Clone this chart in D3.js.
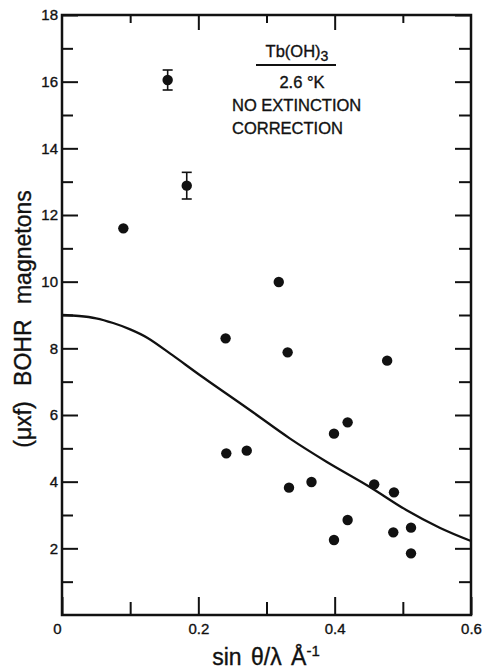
<!DOCTYPE html>
<html><head><meta charset="utf-8">
<script src="https://cdn.jsdelivr.net/npm/d3@7"></script>
<style>
body{margin:0;background:#fff;}
text{font-family:"Liberation Sans",Arial,sans-serif;fill:#111;stroke:#111;stroke-width:0.35px;}
</style></head>
<body><svg id="c" width="485" height="671"></svg>
<script>
// measured points (sinθ/λ, moment)
const pointX = [0.090,0.155,0.183,0.240,0.241,0.271,0.318,0.331,0.333,0.366,0.399,0.399,0.419,0.419,0.458,0.477,0.486,0.487,0.512,0.512];
const pointY = [11.6,16.05,12.88,8.30,4.85,4.93,9.99,7.88,3.82,3.99,5.44,2.25,5.78,2.85,3.92,7.63,2.48,3.68,2.62,1.85];
const pointErr = [0,0.3,0.4,0,0,0,0,0,0,0,0,0,0,0,0,0,0,0,0,0];
// theoretical curve
const curveX = [0,0.025,0.05,0.075,0.1,0.125,0.163,0.202,0.2755,0.334,0.388,0.451,0.505,0.554,0.6];
const curveY = [9.0,8.97,8.90,8.76,8.57,8.32,7.78,7.20,6.15,5.30,4.60,3.85,3.15,2.62,2.22];
const xMajor = [0,0.2,0.4,0.6];
const xMinor = [0.1,0.3,0.5];
const yMajor = [2,4,6,8,10,12,14,16,18];
const yMinor = [1,3,5,7,9,11,13,15,17];

const svg = d3.select("#c");
const L=62,R=471,T=15,B=615;
const x = d3.scaleLinear().domain([0,0.6]).range([L,R]);
const y = d3.scaleLinear().domain([0,18]).range([B,T]);

function style(g,w){g.select(".domain").remove();g.selectAll("line").attr("stroke","#111").attr("stroke-width",w);}

// left axis
svg.append("g").attr("transform",`translate(${L},0)`)
  .call(d3.axisLeft(y).tickValues(yMajor).tickSize(-16).tickPadding(4).tickFormat(d3.format("d")))
  .call(g=>{style(g,2);g.selectAll("text").attr("font-size",15).attr("font-family","Liberation Sans");});
svg.append("g").attr("transform",`translate(${L},0)`)
  .call(d3.axisLeft(y).tickValues(yMinor).tickSize(-11).tickFormat(""))
  .call(g=>style(g,2));
// right axis
svg.append("g").attr("transform",`translate(${R},0)`)
  .call(d3.axisRight(y).tickValues(yMajor).tickSize(-16).tickFormat(""))
  .call(g=>style(g,2));
svg.append("g").attr("transform",`translate(${R},0)`)
  .call(d3.axisRight(y).tickValues(yMinor).tickSize(-12).tickFormat(""))
  .call(g=>style(g,2));
// bottom axis
svg.append("g").attr("transform",`translate(0,${B})`)
  .call(d3.axisBottom(x).tickValues(xMajor).tickSize(-18).tickPadding(6).tickFormat(d=>d===0?"0":d3.format(".1f")(d)))
  .call(g=>{style(g,2);g.selectAll("text").attr("font-size",15).attr("dy","0.85em").attr("font-family","Liberation Sans");
    g.selectAll(".tick").filter(d=>d===0).select("text").attr("dx",-5);});
svg.append("g").attr("transform",`translate(0,${B})`)
  .call(d3.axisBottom(x).tickValues(xMinor).tickSize(-13).tickFormat(""))
  .call(g=>style(g,2));
// top axis
svg.append("g").attr("transform",`translate(0,${T})`)
  .call(d3.axisTop(x).tickValues([0.2,0.4]).tickSize(-15).tickFormat(""))
  .call(g=>style(g,2));
svg.append("g").attr("transform",`translate(0,${T})`)
  .call(d3.axisTop(x).tickValues(xMinor).tickSize(-8).tickFormat(""))
  .call(g=>style(g,2));
// frame
svg.append("rect").attr("x",L).attr("y",T).attr("width",R-L).attr("height",B-T)
  .attr("fill","none").attr("stroke","#111").attr("stroke-width",2.5);

// curve
const cdata = curveX.map((v,i)=>[v,curveY[i]]);
svg.append("path").datum(cdata)
  .attr("d",d3.line().x(d=>x(d[0])).y(d=>y(d[1])).curve(d3.curveCatmullRom.alpha(0.5)))
  .attr("fill","none").attr("stroke","#111").attr("stroke-width",2.3);

// points
const pts = pointX.map((v,i)=>({x:v,y:pointY[i],e:pointErr[i]}));
const eg = svg.append("g").attr("stroke","#111").attr("stroke-width",1.6);
pts.filter(d=>d.e>0).forEach(d=>{
  eg.append("line").attr("x1",x(d.x)).attr("x2",x(d.x)).attr("y1",y(d.y+d.e)).attr("y2",y(d.y-d.e));
  [d.y+d.e,d.y-d.e].forEach(v=>eg.append("line").attr("x1",x(d.x)-5).attr("x2",x(d.x)+5).attr("y1",y(v)).attr("y2",y(v)));
});
svg.append("g").selectAll("circle").data(pts).join("circle")
  .attr("cx",d=>x(d.x)).attr("cy",d=>y(d.y)).attr("r",5.2).attr("fill","#111");

// annotation
const ann = svg.append("g").attr("font-size",16.5);
const t1 = ann.append("text").attr("x",297).attr("y",57).attr("text-anchor","middle");
t1.append("tspan").text("Tb(OH)");
t1.append("tspan").attr("dy",4).attr("font-size",14).text("3");
svg.append("line").attr("x1",256).attr("x2",336).attr("y1",65).attr("y2",65).attr("stroke","#111").attr("stroke-width",2);
ann.append("text").attr("x",302).attr("y",88).attr("text-anchor","middle").text("2.6 °K");
ann.append("text").attr("x",232).attr("y",111).text("NO EXTINCTION");
ann.append("text").attr("x",232).attr("y",134).text("CORRECTION");

// axis titles
const xt = svg.append("text").attr("x",266).attr("y",665).attr("text-anchor","middle").attr("font-size",23).attr("word-spacing",3);
xt.append("tspan").text("sin θ/λ Å");
xt.append("tspan").attr("dy",-9).attr("font-size",15).text("-1");
svg.append("text").attr("transform","translate(31,319) rotate(-90)").attr("text-anchor","middle")
  .attr("font-size",23).attr("word-spacing",9).text("(μxf) BOHR magnetons");
</script></body></html>
